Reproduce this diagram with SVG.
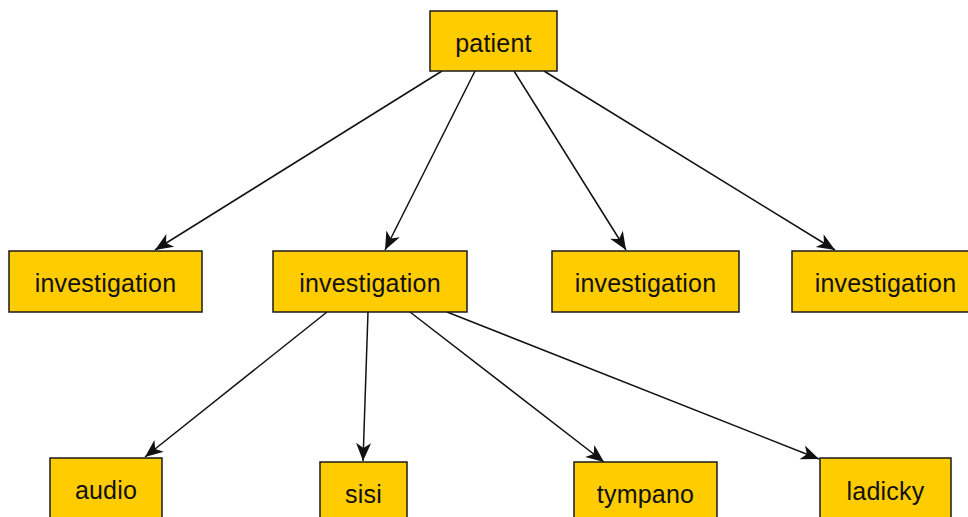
<svg xmlns="http://www.w3.org/2000/svg" width="968" height="517" viewBox="0 0 968 517">
<style>
.node rect{fill:#FFCC00;stroke:#1a1a1a;stroke-width:1.5}
.node text{font-family:"Liberation Sans",Arial,sans-serif;font-size:25px;letter-spacing:0.2px;fill:#111;text-anchor:middle}
.edge{stroke:#111;stroke-width:1.5;fill:none;marker-end:url(#arr)}
</style>
<defs>
<marker id="arr" markerUnits="userSpaceOnUse" markerWidth="20" markerHeight="18" refX="18" refY="9" orient="auto">
<path d="M0,1.5 L18,9 L0,16.5 L5,9 Z" fill="#111"/>
</marker>
</defs>
<rect width="968" height="517" fill="#fff"/>
<g id="connectors">
<line class="edge" x1="442" y1="71" x2="155" y2="250"/>
<line class="edge" x1="475" y1="71" x2="385" y2="250"/>
<line class="edge" x1="514" y1="71" x2="626" y2="250"/>
<line class="edge" x1="544" y1="71" x2="835" y2="250"/>
<line class="edge" x1="327" y1="312" x2="145" y2="457"/>
<line class="edge" x1="368" y1="312" x2="363" y2="461"/>
<line class="edge" x1="410" y1="312" x2="604" y2="462"/>
<line class="edge" x1="447" y1="312" x2="819" y2="459"/>
</g>
<g id="patient" class="node"><rect x="430" y="11" width="127" height="60"/><text x="493.5" y="52">patient</text></g>
<g id="investigation1" class="node"><rect x="9" y="251" width="193" height="61"/><text x="105.5" y="292">investigation</text></g>
<g id="investigation2" class="node"><rect x="273" y="251" width="194" height="61"/><text x="370" y="292">investigation</text></g>
<g id="investigation3" class="node"><rect x="552" y="251" width="187" height="61"/><text x="645.5" y="292">investigation</text></g>
<g id="investigation4" class="node"><rect x="792" y="251" width="187" height="61"/><text x="885.5" y="292">investigation</text></g>
<g id="audio" class="node"><rect x="50" y="458" width="112" height="62"/><text x="106" y="499">audio</text></g>
<g id="sisi" class="node"><rect x="320" y="462" width="87" height="62"/><text x="363.5" y="503">sisi</text></g>
<g id="tympano" class="node"><rect x="574" y="462" width="143" height="62"/><text x="645.5" y="503">tympano</text></g>
<g id="ladicky" class="node"><rect x="820" y="458" width="131" height="62"/><text x="885.5" y="500">ladicky</text></g>
</svg>
